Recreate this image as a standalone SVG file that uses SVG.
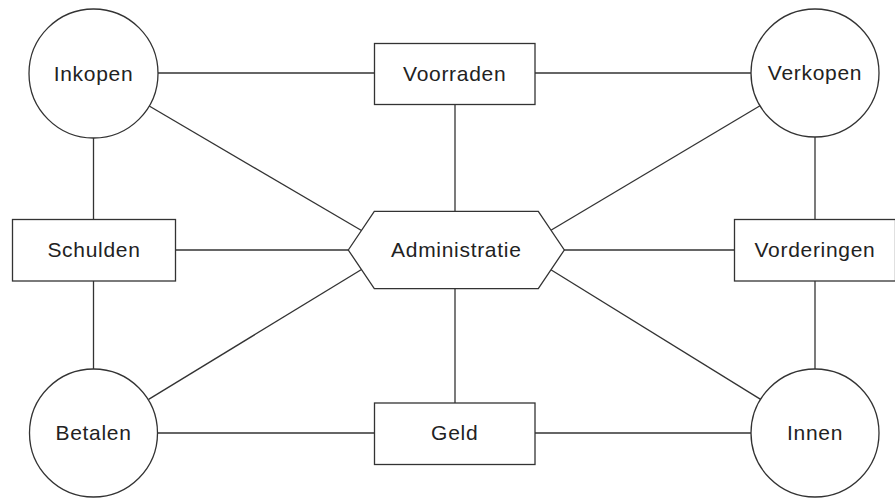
<svg xmlns="http://www.w3.org/2000/svg" width="895" height="498" viewBox="0 0 895 498">
<style>
.n{fill:#fff;stroke:#333;stroke-width:1.3}
.c line{stroke:#333;stroke-width:1.3}
text{font-family:"Liberation Sans",Arial,sans-serif;font-size:21px;letter-spacing:0.7px;fill:#222;text-anchor:middle}
</style>
<rect width="895" height="498" fill="#fff"/>
<g id="connectors" class="c">
<line x1="158" y1="73" x2="374.5" y2="73"/>
<line x1="535" y1="73" x2="751" y2="73"/>
<line x1="93.5" y1="138" x2="93.5" y2="219"/>
<line x1="93.5" y1="281" x2="93.5" y2="369"/>
<line x1="815" y1="137" x2="815" y2="219"/>
<line x1="815" y1="281" x2="815" y2="369"/>
<line x1="158" y1="433" x2="374.5" y2="433"/>
<line x1="535" y1="433" x2="751" y2="433"/>
<line x1="455" y1="104.5" x2="455" y2="211"/>
<line x1="455" y1="289" x2="455" y2="403"/>
<line x1="176" y1="250" x2="348" y2="250"/>
<line x1="564" y1="250" x2="734.5" y2="250"/>
<line x1="149.2" y1="106" x2="361.5" y2="230.5"/>
<line x1="148.6" y1="399.4" x2="361.5" y2="269.5"/>
<line x1="760" y1="105.7" x2="550.5" y2="230.5"/>
<line x1="760.6" y1="399.4" x2="550.5" y2="269.5"/>
</g>
<g id="inkopen"><circle class="n" cx="93.5" cy="73.5" r="64.5"/><text x="93.5" y="80.5">Inkopen</text></g>
<g id="verkopen"><circle class="n" cx="815" cy="73" r="64"/><text x="815" y="80">Verkopen</text></g>
<g id="betalen"><circle class="n" cx="93.5" cy="433" r="64"/><text x="93.5" y="440">Betalen</text></g>
<g id="innen"><circle class="n" cx="815" cy="433" r="64"/><text x="815" y="440">Innen</text></g>
<g id="voorraden"><rect class="n" x="374.5" y="43.5" width="160.5" height="61"/><text x="454.7" y="81">Voorraden</text></g>
<g id="schulden"><rect class="n" x="12.5" y="219.5" width="163" height="61.5"/><text x="94" y="257">Schulden</text></g>
<g id="vorderingen"><rect class="n" x="734.5" y="219.5" width="161" height="61.5"/><text x="815" y="257">Vorderingen</text></g>
<g id="geld"><rect class="n" x="374.5" y="403" width="160.5" height="61.5"/><text x="454.7" y="440">Geld</text></g>
<g id="administratie"><polygon class="n" points="348.3,250 374.3,211.3 538.3,211.3 564.3,250 538.3,288.7 374.3,288.7"/><text x="456.3" y="256.5">Administratie</text></g>
</svg>
